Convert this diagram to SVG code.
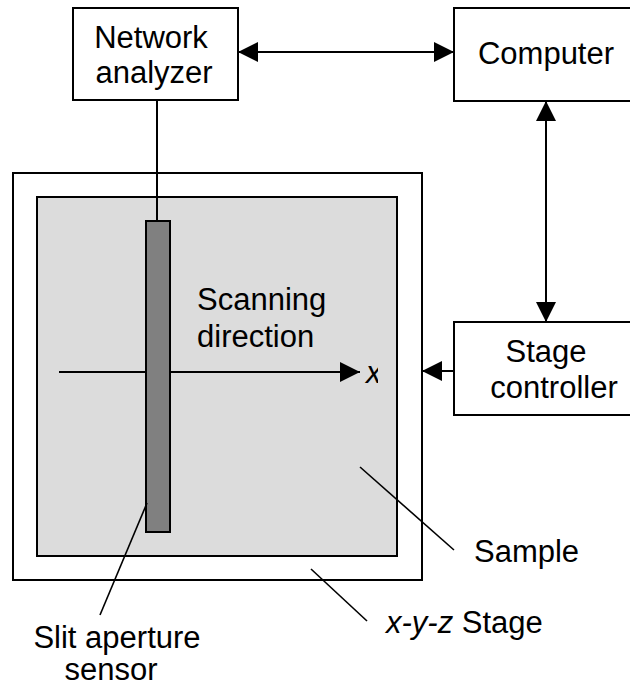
<svg xmlns="http://www.w3.org/2000/svg" width="630" height="691" viewBox="0 0 630 691">
  <style>
    .box { fill: #ffffff; stroke: #000000; stroke-width: 2; }
    .label { font-family: "Liberation Sans", Arial, sans-serif; font-size: 31px; fill: #000000; }
    .ital { font-style: italic; }
    .wire { stroke: #000000; stroke-width: 2; fill: none; }
    .leader { stroke: #000000; stroke-width: 1.6; fill: none; }
  </style>
  <defs>
    <marker id="head" viewBox="0 0 20 20" refX="20" refY="10" markerWidth="20" markerHeight="20" markerUnits="userSpaceOnUse" orient="auto-start-reverse">
      <path d="M0,0 L20,10 L0,20 Z" fill="#000000"/>
    </marker>
    <clipPath id="xclip">
      <rect x="355" y="340" width="23" height="60"/>
    </clipPath>
  </defs>
  <rect width="630" height="691" fill="#ffffff"/>

  <!-- stage and sample -->
  <g id="stage">
    <rect class="box" x="13" y="173" width="409" height="407"/>
  </g>
  <g id="sample">
    <rect x="37" y="197" width="360" height="359" fill="#dcdcdc" stroke="#000000" stroke-width="2"/>
  </g>

  <!-- scan axis -->
  <g id="scan-axis">
    <line class="wire" x1="59" y1="372" x2="360" y2="372" marker-end="url(#head)"/>
    <text class="label ital" x="366" y="383" clip-path="url(#xclip)">x</text>
    <text class="label" x="197" y="310">Scanning</text>
    <text class="label" x="197" y="347">direction</text>
  </g>

  <g id="sensor">
    <rect x="146" y="221" width="24" height="311" fill="#808080" stroke="#000000" stroke-width="2"/>
  </g>

  <g id="network-analyzer">
    <rect class="box" x="73" y="8" width="165" height="92"/>
    <text class="label" x="151" y="48" text-anchor="middle">Network</text>
    <text class="label" x="154" y="83" text-anchor="middle">analyzer</text>
  </g>

  <g id="computer">
    <rect class="box" x="454" y="8" width="190" height="93"/>
    <text class="label" x="546" y="64" text-anchor="middle">Computer</text>
  </g>

  <g id="stage-controller">
    <rect class="box" x="454" y="322" width="190" height="93"/>
    <text class="label" x="546" y="362" text-anchor="middle">Stage</text>
    <text class="label" x="554" y="398" text-anchor="middle">controller</text>
  </g>

  <g id="connectors">
    <line class="wire" x1="238" y1="52" x2="454" y2="52" marker-start="url(#head)" marker-end="url(#head)"/>
    <line class="wire" x1="546" y1="101" x2="546" y2="322" marker-start="url(#head)" marker-end="url(#head)"/>
    <line class="wire" x1="454" y1="371" x2="422" y2="371" marker-end="url(#head)"/>
    <line class="wire" x1="157" y1="100" x2="157" y2="221"/>
  </g>

  <g id="annotations">
    <line class="leader" x1="360" y1="467" x2="454" y2="550"/>
    <text class="label" x="474" y="562">Sample</text>
    <line class="leader" x1="311" y1="569" x2="367" y2="621"/>
    <text class="label" x="386" y="633"><tspan class="ital">x-y-z</tspan> Stage</text>
    <line class="leader" x1="147" y1="503" x2="100" y2="615"/>
    <text class="label" x="117" y="648" text-anchor="middle">Slit aperture</text>
    <text class="label" x="111" y="680" text-anchor="middle">sensor</text>
  </g>
</svg>
